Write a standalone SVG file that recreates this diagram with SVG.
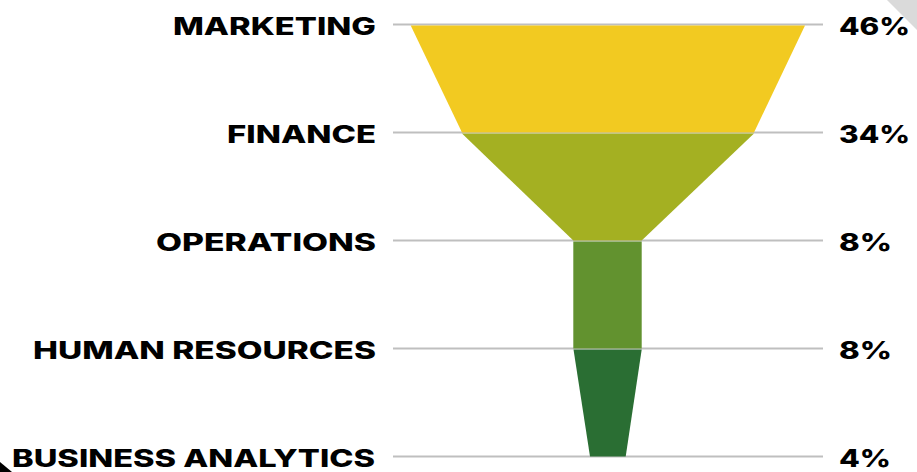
<svg xmlns="http://www.w3.org/2000/svg" width="917" height="472" viewBox="0 0 917 472">
<style>
.lbl{font-family:Inter,"DejaVu Sans",sans-serif;font-weight:800;font-size:24px;fill:#000;}
.guide{stroke:#BFBFBF;stroke-width:2;}
</style>
<rect width="917" height="472" fill="#fff"/>
<polygon points="887,0 917,0 917,30" fill="#DADADA"/>
<polygon points="0,462 12,472 0,472" fill="#000"/>
<g id="connectors">
<line class="guide" x1="393" y1="24.5" x2="823" y2="24.5"/>
<line class="guide" x1="393" y1="132.5" x2="823" y2="132.5"/>
<line class="guide" x1="393" y1="240.5" x2="823" y2="240.5"/>
<line class="guide" x1="393" y1="348.5" x2="823" y2="348.5"/>
<line class="guide" x1="393" y1="456.5" x2="823" y2="456.5"/>
</g>
<g id="marketing">
<polygon points="410.7,25.5 805,25.5 754,132.5 462,132.5" fill="#F2CA21"/>
<text class="lbl" x="173" y="35" textLength="203" lengthAdjust="spacingAndGlyphs">MARKETING</text>
<text class="lbl" x="839" y="35" textLength="71" lengthAdjust="spacingAndGlyphs">46%</text>
</g>
<g id="finance">
<polygon points="462,133.5 754,133.5 641.7,240.5 573.3,240.5" fill="#A4B022"/>
<text class="lbl" x="227" y="143" textLength="149" lengthAdjust="spacingAndGlyphs">FINANCE</text>
<text class="lbl" x="839" y="143" textLength="71" lengthAdjust="spacingAndGlyphs">34%</text>
</g>
<g id="operations">
<rect x="573.3" y="241.5" width="68.4" height="107" fill="#62922F"/>
<text class="lbl" x="156" y="251" textLength="220" lengthAdjust="spacingAndGlyphs">OPERATIONS</text>
<text class="lbl" x="839" y="251" textLength="53" lengthAdjust="spacingAndGlyphs">8%</text>
</g>
<g id="human-resources">
<polygon points="573.5,349.5 641.7,349.5 625.7,456.5 590,456.5" fill="#2A6E33"/>
<text class="lbl" x="33" y="359" textLength="343" lengthAdjust="spacingAndGlyphs">HUMAN RESOURCES</text>
<text class="lbl" x="839" y="359" textLength="53" lengthAdjust="spacingAndGlyphs">8%</text>
</g>
<g id="business-analytics">
<text class="lbl" x="12" y="467" textLength="363" lengthAdjust="spacingAndGlyphs">BUSINESS ANALYTICS</text>
<text class="lbl" x="839" y="467" textLength="52" lengthAdjust="spacingAndGlyphs">4%</text>
</g>
</svg>
